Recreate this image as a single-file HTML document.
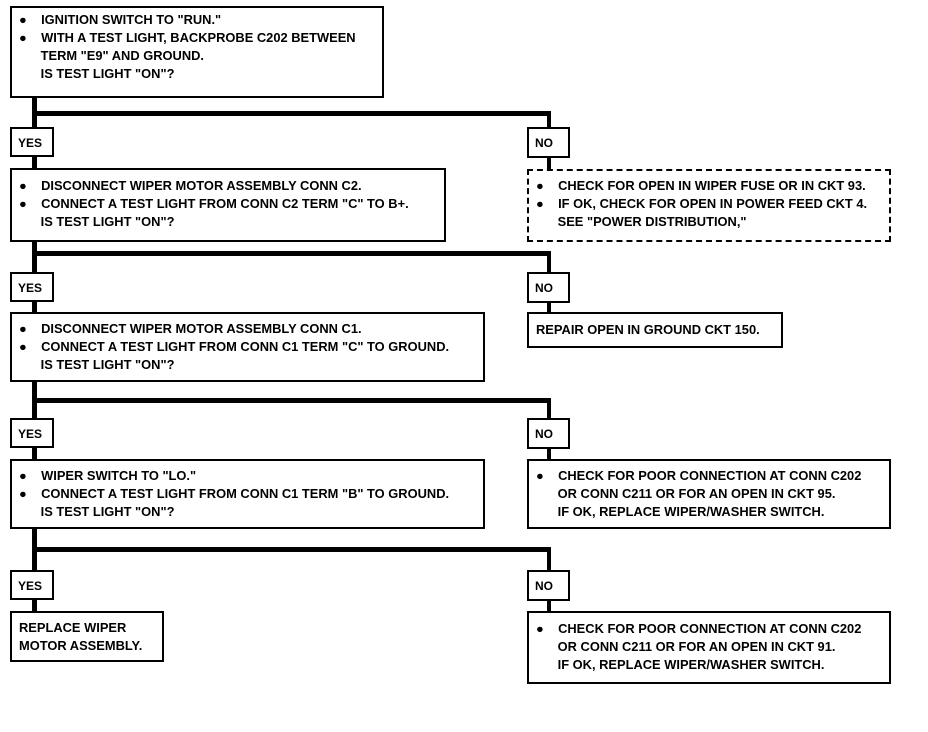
<!DOCTYPE html>
<html><head><style>
body{margin:0;width:928px;height:732px;background:#fff;position:relative;overflow:hidden;font-family:"Liberation Sans",sans-serif;font-weight:bold;font-size:12.5px;color:#000}
.b{position:absolute;border:2px solid #000;box-sizing:border-box;background:#fff}
.d{border-style:dashed}
.l{position:absolute;background:#000}
.t{position:absolute;line-height:18px;white-space:nowrap;transform:scaleX(1.03);transform-origin:left}
.lab{position:absolute;border:2px solid #000;box-sizing:border-box;background:#fff;padding:7px 0 0 6px;font-size:12px}
</style></head><body>
<div class="l" style="left:32px;top:96px;width:5px;height:520px"></div>
<div class="l" style="left:32px;top:111px;width:519px;height:5px"></div>
<div class="l" style="left:547px;top:111px;width:4px;height:60px"></div>
<div class="l" style="left:32px;top:251px;width:519px;height:5px"></div>
<div class="l" style="left:547px;top:251px;width:4px;height:62px"></div>
<div class="l" style="left:32px;top:398px;width:519px;height:5px"></div>
<div class="l" style="left:547px;top:398px;width:4px;height:62px"></div>
<div class="l" style="left:32px;top:547px;width:519px;height:5px"></div>
<div class="l" style="left:547px;top:547px;width:4px;height:66px"></div>

<div class="b" style="left:10px;top:6px;width:374px;height:92px"></div>
<div class="t" style="left:19px;top:11px">●&nbsp;&nbsp;&nbsp; IGNITION SWITCH TO "RUN."<br>●&nbsp;&nbsp;&nbsp; WITH A TEST LIGHT, BACKPROBE C202 BETWEEN<br><span style="padding-left:21px">TERM "E9" AND GROUND.</span><br><span style="padding-left:21px">IS TEST LIGHT "ON"?</span></div>

<div class="lab" style="left:10px;top:127px;width:44px;height:30px">YES</div>
<div class="lab" style="left:527px;top:127px;width:43px;height:31px">NO</div>

<div class="b" style="left:10px;top:168px;width:436px;height:74px"></div>
<div class="t" style="left:19px;top:177px">●&nbsp;&nbsp;&nbsp; DISCONNECT WIPER MOTOR ASSEMBLY CONN C2.<br>●&nbsp;&nbsp;&nbsp; CONNECT A TEST LIGHT FROM CONN C2 TERM "C" TO B+.<br><span style="padding-left:21px">IS TEST LIGHT "ON"?</span></div>

<div class="b d" style="left:527px;top:169px;width:364px;height:73px"></div>
<div class="t" style="left:536px;top:177px">●&nbsp;&nbsp;&nbsp; CHECK FOR OPEN IN WIPER FUSE OR IN CKT 93.<br>●&nbsp;&nbsp;&nbsp; IF OK, CHECK FOR OPEN IN POWER FEED CKT 4.<br><span style="padding-left:21px">SEE "POWER DISTRIBUTION,"</span></div>

<div class="lab" style="left:10px;top:272px;width:44px;height:30px">YES</div>
<div class="lab" style="left:527px;top:272px;width:43px;height:31px">NO</div>

<div class="b" style="left:10px;top:312px;width:475px;height:70px"></div>
<div class="t" style="left:19px;top:320px">●&nbsp;&nbsp;&nbsp; DISCONNECT WIPER MOTOR ASSEMBLY CONN C1.<br>●&nbsp;&nbsp;&nbsp; CONNECT A TEST LIGHT FROM CONN C1 TERM "C" TO GROUND.<br><span style="padding-left:21px">IS TEST LIGHT "ON"?</span></div>

<div class="b" style="left:527px;top:312px;width:256px;height:36px"></div>
<div class="t" style="left:536px;top:321px">REPAIR OPEN IN GROUND CKT 150.</div>

<div class="lab" style="left:10px;top:418px;width:44px;height:30px">YES</div>
<div class="lab" style="left:527px;top:418px;width:43px;height:31px">NO</div>

<div class="b" style="left:10px;top:459px;width:475px;height:70px"></div>
<div class="t" style="left:19px;top:467px">●&nbsp;&nbsp;&nbsp; WIPER SWITCH TO "LO."<br>●&nbsp;&nbsp;&nbsp; CONNECT A TEST LIGHT FROM CONN C1 TERM "B" TO GROUND.<br><span style="padding-left:21px">IS TEST LIGHT "ON"?</span></div>

<div class="b" style="left:527px;top:459px;width:364px;height:70px"></div>
<div class="t" style="left:536px;top:467px">●&nbsp;&nbsp;&nbsp; CHECK FOR POOR CONNECTION AT CONN C202<br><span style="padding-left:21px">OR CONN C211 OR FOR AN OPEN IN CKT 95.</span><br><span style="padding-left:21px">IF OK, REPLACE WIPER/WASHER SWITCH.</span></div>

<div class="lab" style="left:10px;top:570px;width:44px;height:30px">YES</div>
<div class="lab" style="left:527px;top:570px;width:43px;height:31px">NO</div>

<div class="b" style="left:10px;top:611px;width:154px;height:51px"></div>
<div class="t" style="left:19px;top:619px">REPLACE WIPER<br>MOTOR ASSEMBLY.</div>

<div class="b" style="left:527px;top:611px;width:364px;height:73px"></div>
<div class="t" style="left:536px;top:620px">●&nbsp;&nbsp;&nbsp; CHECK FOR POOR CONNECTION AT CONN C202<br><span style="padding-left:21px">OR CONN C211 OR FOR AN OPEN IN CKT 91.</span><br><span style="padding-left:21px">IF OK, REPLACE WIPER/WASHER SWITCH.</span></div>
</body></html>
